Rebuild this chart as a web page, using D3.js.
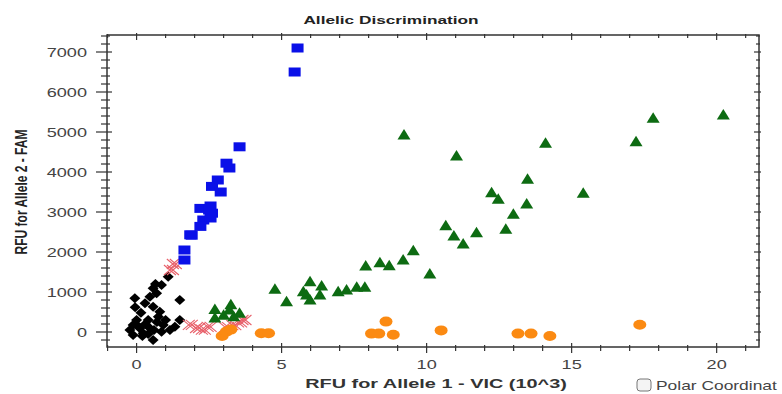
<!DOCTYPE html>
<html><head><meta charset="utf-8">
<script src="https://cdn.jsdelivr.net/npm/d3@7/dist/d3.min.js"></script>
<style>html,body{margin:0;padding:0;background:#fff;overflow:hidden}</style>
</head><body>
<svg id="chart" width="782" height="394"></svg>
<script>
// ---- data (x in RFU x10^3, y in RFU) ----
const blueX = [5.55,5.45,3.55,3.1,3.2,2.8,2.6,2.9,2.55,2.2,2.6,2.3,2.55,2.2,1.85,1.65,1.65,2.5,1.9];
const blueY = [7100,6500,4630,4220,4100,3800,3640,3500,3150,3090,2970,2800,2850,2640,2430,2050,1800,3050,2420];
const greenX = [9.22,11.03,14.1,17.22,17.81,20.23,13.48,12.24,12.47,15.4,13.45,12.99,12.73,11.72,10.66,10.94,11.26,9.54,9.19,8.71,10.11,8.39,7.9,
  4.77,5.17,5.98,6.38,5.86,5.98,6.32,6.95,7.24,7.59,7.87,5.75,
  2.7,2.7,3.25,3.2,3.0,3.55,3.35];
const greenY = [4925,4400,4717,4758,5342,5425,3817,3483,3317,3467,3200,2942,2567,2483,2658,2400,2200,2033,1800,1658,1450,1733,1650,
  1067,758,1258,1150,925,800,925,1008,1050,1117,1117,1008,
  560,350,680,550,420,470,380];
const orangeX = [2.95,3.1,3.25,4.3,4.55,8.1,8.35,8.6,8.85,10.5,13.15,13.6,14.25,17.35];
const orangeY = [-100,10,60,-30,-30,-40,-40,260,-70,40,-40,-40,-100,180];
const redX = [1.25,1.15,1.8,2.05,2.25,2.45,3.05,3.3,3.5,3.65];
const redY = [1700,1550,180,100,60,130,120,170,240,300];
const blackX = [1.09,0.86,0.57,0.69,0.46,-0.06,0.29,1.49,0.57,0.8,0.75,0.4,0.0,-0.12,0.11,0.46,0.92,1.49,1.32,-0.12,0.23,0.57,0.86,1.15,-0.23,0.05,0.3,0.7,0.2,0.6,1.0,0.4,0.15,0.65,-0.05];
const blackY = [1383,1175,1092,967,883,842,717,800,633,508,383,300,300,175,92,92,175,300,133,-75,-33,-200,8,50,50,150,200,250,-100,50,300,-50,480,1200,620];
const xTicks = [0,5,10,15,20];
const yTicks = [0,1000,2000,3000,4000,5000,6000,7000];
const title = "Allelic Discrimination";
const xTitle = "RFU for Allele 1 - VIC (10^3)";
const yTitle = "RFU for Allele 2 - FAM";
const polarLabel = "Polar Coordinat";

// ---- layout ----
const SX = 1.45; // horizontal stretch of the original image
const L = 107, R = 759, T = 35, B = 347;
const x = d3.scaleLinear().domain([-1.02, 21.46]).range([L, R]);
const y = d3.scaleLinear().domain([-375, 7425]).range([B, T]);
const svg = d3.select("#chart");
const font = "'Liberation Sans', Arial, sans-serif";
const axisCol = "#333";

// frame
svg.append("rect").attr("x", L).attr("y", T).attr("width", R - L).attr("height", B - T)
  .attr("fill", "none").attr("stroke", axisCol).attr("stroke-width", 1.5);

// ticks
const g = svg.append("g").attr("stroke", axisCol).attr("stroke-width", 1.2);
const xMinor = d3.range(-1, 22, 1);
const yMinor = d3.range(-200, 7401, 200);
xMinor.forEach(v => {
  const major = v % 5 === 0;
  const px = x(v);
  g.append("line").attr("x1", px).attr("x2", px).attr("y1", B - (major ? 4 : 2)).attr("y2", B + (major ? 6 : 4));
  g.append("line").attr("x1", px).attr("x2", px).attr("y1", T - (major ? 2 : 1)).attr("y2", T + (major ? 5 : 3));
});
yMinor.forEach(v => {
  const major = v % 1000 === 0;
  const py = y(v);
  g.append("line").attr("y1", py).attr("y2", py).attr("x1", L - (major ? 11 : 6)).attr("x2", L + (major ? 5 : 3));
  g.append("line").attr("y1", py).attr("y2", py).attr("x1", R - (major ? 5 : 3)).attr("x2", R + (major ? 2 : 1));
});

function stext(px, py, str, opts) {
  const sx = opts.sx || SX;
  return svg.append("text")
    .attr("transform", `translate(${px},${py}) scale(${sx},1)` + (opts.rot ? " rotate(-90)" : ""))
    .attr("font-family", font).attr("font-size", opts.size)
    .attr("font-weight", opts.bold ? "bold" : "normal")
    .attr("fill", opts.fill || "#333")
    .attr("text-anchor", opts.anchor || "middle")
    .text(str);
}

// tick labels
xTicks.forEach(v => stext(x(v), 369, String(v), {size: 12.5, fill: "#444"}));
yTicks.forEach(v => stext(87, y(v) + 4.5, String(v), {size: 12.5, fill: "#444", anchor: "end"}));

// titles
stext(391, 24, title, {size: 11.5, sx: 1.5, bold: true, fill: "#222"});
stext(436, 388, xTitle, {size: 13, sx: 1.53, bold: true, fill: "#333"});
stext(27, 192, yTitle, {size: 12, bold: true, fill: "#222", rot: true});

// polar coordinates checkbox
svg.append("rect").attr("x", 637).attr("y", 379).attr("width", 14).attr("height", 12).attr("rx", 3)
  .attr("fill", "#f4f4f4").attr("stroke", "#777").attr("stroke-width", 1);
stext(656, 390, polarLabel, {size: 12, fill: "#444", anchor: "start"});

// ---- marks ----
const marks = svg.append("g");
// black diamonds
marks.selectAll(".blk").data(d3.range(blackX.length)).join("path")
  .attr("d", i => { const cx = x(blackX[i]), cy = y(blackY[i]);
    return `M${cx},${cy-5}L${cx+5.5},${cy}L${cx},${cy+5}L${cx-5.5},${cy}Z`; })
  .attr("fill", "#000");
// red crosses
marks.selectAll(".red").data(d3.range(redX.length)).join("path")
  .attr("d", i => { const cx = x(redX[i]), cy = y(redY[i]);
    return `M${cx-6},${cy-5}L${cx+6},${cy+5}M${cx-6},${cy+5}L${cx+6},${cy-5}M${cx-3},${cy-5}L${cx+9},${cy+5}M${cx-3},${cy+5}L${cx+9},${cy-5}`; })
  .attr("stroke", "#e8606a").attr("stroke-width", 1.1).attr("fill", "none");
// blue squares
marks.selectAll(".blu").data(d3.range(blueX.length)).join("rect")
  .attr("x", i => x(blueX[i]) - 6).attr("y", i => y(blueY[i]) - 4.5)
  .attr("width", 12).attr("height", 9).attr("fill", "#0a10e8");
// green triangles
marks.selectAll(".grn").data(d3.range(greenX.length)).join("path")
  .attr("d", i => { const cx = x(greenX[i]), cy = y(greenY[i]);
    return `M${cx},${cy-6}L${cx+6.5},${cy+4.5}L${cx-6.5},${cy+4.5}Z`; })
  .attr("fill", "#0d6b12");
// orange circles
marks.selectAll(".org").data(d3.range(orangeX.length)).join("ellipse")
  .attr("cx", i => x(orangeX[i])).attr("cy", i => y(orangeY[i]))
  .attr("rx", 6.5).attr("ry", 5).attr("fill", "#fb8a12");
</script>
</body></html>
